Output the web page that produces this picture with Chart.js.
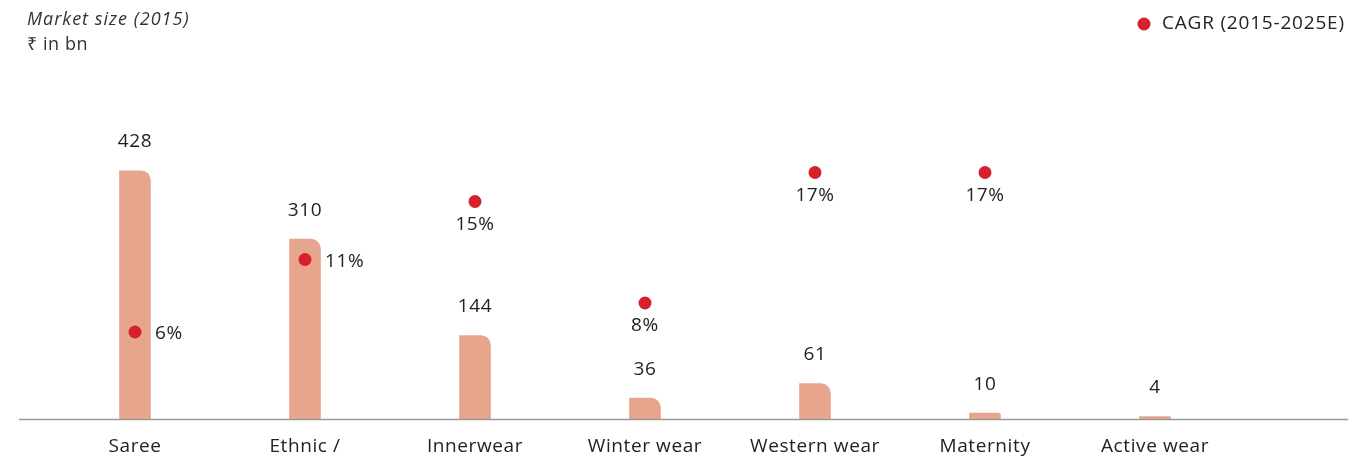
<!DOCTYPE html>
<html>
<head>
<meta charset="utf-8">
<script src="https://cdn.jsdelivr.net/npm/chart.js@4"></script>
<style>
    html, body { margin: 0; padding: 0; background: #ffffff; }
    #wrap { position: relative; width: 1348px; height: 457px; }
</style>
</head>
<body>
<div id="wrap"><canvas id="chart" width="1348" height="457"></canvas></div>
<script>
const categories = ['Saree', 'Ethnic /', 'Innerwear', 'Winter wear', 'Western wear', 'Maternity', 'Active wear'];
const marketSize = [428, 310, 144, 36, 61, 10, 4];
const cagr = [6, 11, 15, 8, 17, 17, null];
const cagrBeside = [true, true, false, false, false, false, false];

const barColor = 'rgb(232, 165, 142)';
const dotColor = 'rgb(214, 32, 43)';
const textColor = '#222222';
const fontFamily = '"Open Sans", sans-serif';

const labelsPlugin = {
    id: 'labels',
    afterDraw(chart) {
        const ctx = chart.ctx;
        const x = chart.scales.x;
        const base = chart.scales.y.getPixelForValue(0);
        ctx.save();

        // baseline
        ctx.strokeStyle = '#9a9a9a';
        ctx.lineWidth = 1.5;
        ctx.beginPath();
        ctx.moveTo(19, base + 0.5);
        ctx.lineTo(chart.width, base + 0.5);
        ctx.stroke();

        ctx.fillStyle = textColor;
        ctx.font = '19px ' + fontFamily;
        ctx.letterSpacing = '0.6px';
        ctx.textBaseline = 'middle';

        // category labels
        ctx.textAlign = 'center';
        categories.forEach((c, i) => {
            ctx.fillText(c, x.getPixelForValue(i), base + 28);
        });

        // bar values (dataset 1)
        chart.getDatasetMeta(1).data.forEach((bar, i) => {
            ctx.fillText(String(marketSize[i]), bar.x, bar.y - 29);
        });

        // cagr values (dataset 0)
        chart.getDatasetMeta(0).data.forEach((pt, i) => {
            if (cagr[i] == null) return;
            if (cagrBeside[i]) {
                ctx.textAlign = 'left';
                ctx.fillText(cagr[i] + '%', pt.x + 20, pt.y + 2);
            } else {
                ctx.textAlign = 'center';
                ctx.fillText(cagr[i] + '%', pt.x, pt.y + 23);
            }
        });

        // subtitle
        ctx.textAlign = 'left';
        ctx.fillStyle = '#333333';
        ctx.letterSpacing = '1px';
        ctx.font = 'italic 18px ' + fontFamily;
        ctx.fillText('Market size (2015)', 27, 20);
        ctx.letterSpacing = '0.6px';
        ctx.font = '18px ' + fontFamily;
        ctx.fillText('₹ in bn', 27, 45);

        // legend
        ctx.fillStyle = dotColor;
        ctx.beginPath();
        ctx.arc(1144, 24, 6.5, 0, Math.PI * 2);
        ctx.fill();
        ctx.fillStyle = textColor;
        ctx.letterSpacing = '0.8px';
        ctx.font = '19px ' + fontFamily;
        ctx.fillText('CAGR (2015-2025E)', 1162, 24);

        ctx.restore();
    }
};

document.addEventListener('DOMContentLoaded', () => {
    new Chart(document.getElementById('chart'), {
        data: {
            labels: categories,
            datasets: [{
                type: 'line',
                label: 'CAGR (2015-2025E)',
                data: cagr,
                yAxisID: 'y2',
                showLine: false,
                pointRadius: 6.5,
                pointBackgroundColor: dotColor,
                pointBorderWidth: 0,
                order: 0
            }, {
                type: 'bar',
                label: 'Market size (2015)',
                data: marketSize,
                yAxisID: 'y',
                backgroundColor: barColor,
                barThickness: 31,
                borderRadius: { topLeft: 0, topRight: 10, bottomLeft: 0, bottomRight: 0 },
                borderSkipped: false,
                order: 1
            }]
        },
        options: {
            responsive: false,
            animation: false,
            layout: { padding: { left: 50, right: 108, top: 100, bottom: 38 } },
            plugins: {
                legend: { display: false },
                tooltip: { enabled: false }
            },
            scales: {
                x: { display: false },
                y: { display: false, min: 0, max: 550 },
                y2: { display: false, min: 0, max: 22 }
            }
        },
        plugins: [labelsPlugin]
    });
});
</script>
</body>
</html>
